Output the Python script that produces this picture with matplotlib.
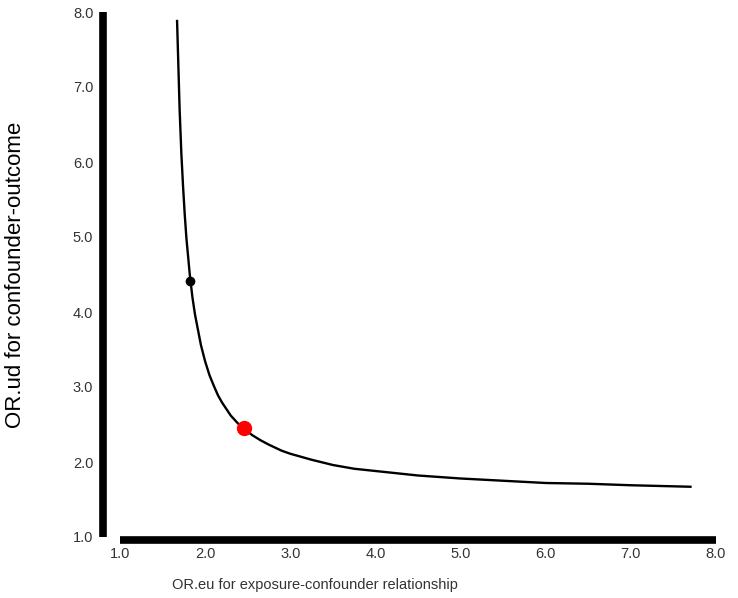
import matplotlib
matplotlib.use('Agg')
import matplotlib.pyplot as plt

# values
or_eu = [1.67, 1.70, 1.72, 1.74, 1.76, 1.78, 1.82, 1.85, 1.88, 1.95, 2.00, 2.05,
         2.10, 2.15, 2.20, 2.30, 2.38, 2.45, 2.55, 2.65, 2.75, 2.90, 3.00, 3.25,
         3.50, 3.75, 4.00, 4.50, 5.00, 5.50, 6.00, 6.50, 7.00, 7.70]
or_ud = [7.88, 6.70, 6.12, 5.68, 5.30, 4.98, 4.49, 4.20, 3.97, 3.56, 3.34, 3.16,
         3.02, 2.89, 2.79, 2.62, 2.52, 2.45, 2.36, 2.29, 2.23, 2.15, 2.11, 2.03,
         1.96, 1.91, 1.88, 1.82, 1.78, 1.75, 1.72, 1.71, 1.69, 1.67]

obs_point = (1.82, 4.42)
evalue_point = (2.46, 2.46)

ticks = [1.0, 2.0, 3.0, 4.0, 5.0, 6.0, 7.0, 8.0]
tick_labels = ['1.0', '2.0', '3.0', '4.0', '5.0', '6.0', '7.0', '8.0']

plt.rcParams['font.family'] = ['Liberation Sans', 'DejaVu Sans']

fig = plt.figure(figsize=(7.38, 5.98), dpi=100)
ax = fig.add_axes([103/738, 58/598, (716-103)/738, (586-58)/598])

ax.plot(or_eu, or_ud, color='black', lw=1.7, zorder=2)
ax.plot(*obs_point, 'o', color='black', ms=6, zorder=3)
ax.plot(*evalue_point, 'o', color='red', ms=10, zorder=3)

ax.set_xlim(0.8, 8.0)
ax.set_ylim(0.96, 8.0)

ax.set_xticks(ticks)
ax.set_xticklabels(tick_labels)
ax.set_yticks(ticks)
ax.set_yticklabels(tick_labels)
ax.tick_params(axis='both', length=0, labelsize=10.5, labelcolor='#333333')
ax.tick_params(axis='y', pad=7)
ax.tick_params(axis='x', pad=5)

for s in ['top', 'right']:
    ax.spines[s].set_visible(False)
ax.spines['left'].set_linewidth(5.5)
ax.spines['bottom'].set_linewidth(5.5)
ax.spines['left'].set_bounds(1.0, 8.0)
ax.spines['bottom'].set_bounds(1.0, 8.0)
ax.spines['left'].set_capstyle('butt')
ax.spines['bottom'].set_capstyle('butt')

ax.set_ylabel('OR.ud for confounder-outcome', fontsize=16, color='black')
ax.yaxis.set_label_coords(-0.125, 0.502)
ax.set_xlabel('OR.eu for exposure-confounder relationship', fontsize=10.5, color='#333333')
ax.xaxis.set_label_coords(0.346, -0.072)

fig.savefig('out.png', dpi=100)
